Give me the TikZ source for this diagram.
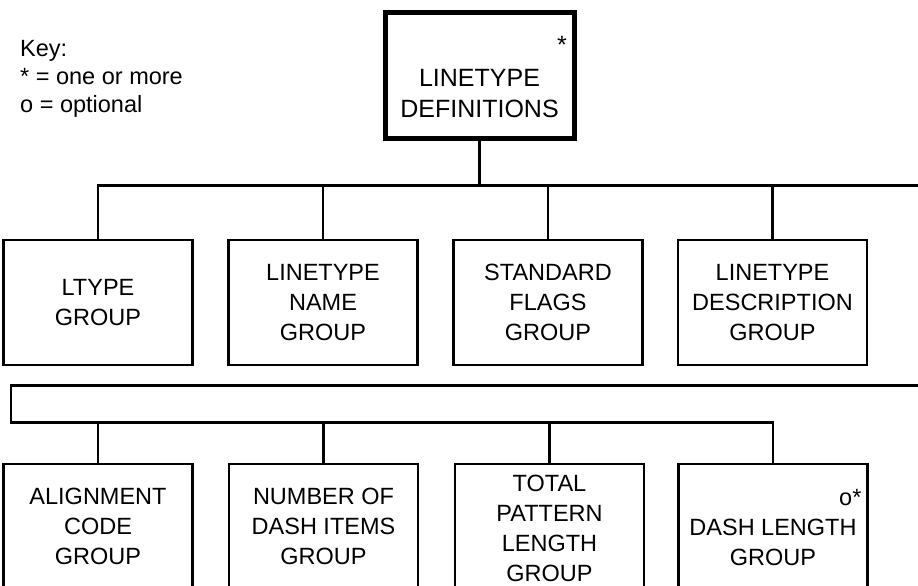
\documentclass[tikz,border=0pt]{standalone}
\usepackage{fontspec}
\setmainfont{Liberation Sans}
\begin{document}
\begin{tikzpicture}[x=1pt,y=-1pt,
  rowbox/.style={draw, line width=2.4pt, minimum width=189pt, minimum height=125pt, inner sep=0pt, align=center, font=\fontsize{23.5}{30}\selectfont},
  topbox/.style={draw, line width=5pt, minimum width=189pt, minimum height=125pt, inner sep=0pt},
  lbl/.style={inner sep=0pt, align=center, font=\fontsize{23.5}{30}\selectfont},
  toplbl/.style={inner sep=0pt, align=center, font=\fontsize{25}{31}\selectfont},
  keytxt/.style={inner sep=0pt, anchor=base west, font=\fontsize{23.5}{28}\selectfont},
  conn/.style={line width=2.4pt}]
\path[use as bounding box] (0,0) rectangle (918,586);
\clip (0,0) rectangle (918,586);

% key
\node[keytxt] (k1) at (20,56.5) {Key:};
\node[keytxt] (k2) at (20,84.5) {* = one or more};
\node[keytxt] (k3) at (20,112) {o = optional};

% top box
\node[topbox] (top) at (479.5,75.5) {};
\node[toplbl] (toptext) at (479.5,93.5) {LINETYPE\\DEFINITIONS};
\node[toplbl, anchor=base] (topstar) at (562,53) {*};

% row 1
\node[rowbox] (r1a) at (98,302.5) {LTYPE\\GROUP};
\node[rowbox] (r1b) at (323,302.5) {LINETYPE\\NAME\\GROUP};
\node[rowbox] (r1c) at (548,302.5) {STANDARD\\FLAGS\\GROUP};
\node[rowbox] (r1d) at (772.5,302.5) {LINETYPE\\DESCRIPTION\\GROUP};

% row 2
\node[rowbox] (r2a) at (98,526.5) {ALIGNMENT\\CODE\\GROUP};
\node[rowbox] (r2b) at (323.5,526.5) {NUMBER OF\\DASH ITEMS\\GROUP};
\node[rowbox] (r2c) at (549.5,526.5) {};
\node[lbl] (r2ct) at (549.5,528) {TOTAL\\PATTERN\\LENGTH\\GROUP};
\node[rowbox] (r2d) at (773,526.5) {};
\node[lbl] (r2dt) at (773,542) {DASH LENGTH\\GROUP};
\node[lbl, anchor=base west] (r2ds) at (839,505) {o*};

% connectors row 1
\coordinate (e1) at (918,185.5);
\draw[conn] (top.south) -- (top.south |- e1);
\draw[conn] (e1) -- (e1 -| r1a.north) -- (r1a.north);
\draw[conn] (r1b.north |- e1) -- (r1b.north);
\draw[conn] (r1c.north |- e1) -- (r1c.north);
\draw[conn] (r1d.north |- e1) -- (r1d.north);

% connectors row 2
\coordinate (e2) at (918,385.5);
\coordinate (c2) at (11,385.5);
\coordinate (c3) at (11,422.5);
\draw[conn] (e2) -- (c2) -- (c3) -- (c3 -| r2d.north) -- (r2d.north);
\draw[conn] (r2a.north |- c3) -- (r2a.north);
\draw[conn] (r2b.north |- c3) -- (r2b.north);
\draw[conn] (r2c.north |- c3) -- (r2c.north);
\end{tikzpicture}
\end{document}
